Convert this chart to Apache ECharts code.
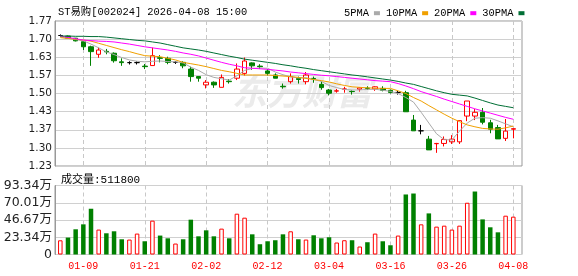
<!DOCTYPE html>
<html><head><meta charset="utf-8">
<script src="https://cdn.jsdelivr.net/npm/echarts@6/dist/echarts.min.js"></script>
<style>html,body{margin:0;padding:0;background:#fff}#c{width:578px;height:276px}</style>
</head><body><div id="c"></div><script>
const dates = ['01-06','01-07','01-08','01-09','01-12','01-13','01-14','01-15','01-16','01-19','01-20','01-21','01-22','01-23','01-26','01-27','01-28','01-29','01-30',
'02-02','02-03','02-04','02-05','02-06','02-09','02-10','02-11','02-12','02-13','02-24','02-25','02-26','02-27',
'03-02','03-03','03-04','03-05','03-06','03-09','03-10','03-11','03-12','03-13','03-16','03-17','03-18','03-19','03-20','03-23','03-24','03-25','03-26','03-27','03-30','03-31',
'04-01','04-02','04-03','04-07','04-08'];
const prevClose0 = 1.716;
const open  = [1.716,1.714,1.706,1.693,1.674,1.646,1.657,1.650,1.618,1.615,1.615,1.602,1.604,1.633,1.631,1.616,1.616,1.591,1.563,1.532,
1.542,1.523,1.546,1.557,1.575,1.614,1.602,1.584,1.569,1.527,1.544,1.556,1.544,1.556,1.534,1.513,1.509,1.516,1.508,1.516,
1.520,1.517,1.519,1.512,1.504,1.503,1.401,1.361,1.330,1.313,1.314,1.320,1.320,1.416,1.416,1.430,1.391,1.373,1.333,1.367];
const close = [1.716,1.706,1.696,1.674,1.656,1.662,1.655,1.622,1.615,1.615,1.615,1.600,1.641,1.631,1.616,1.616,1.603,1.563,1.557,1.542,
1.532,1.560,1.544,1.591,1.621,1.603,1.600,1.575,1.557,1.525,1.563,1.552,1.569,1.554,1.522,1.501,1.510,1.517,1.507,1.521,
1.519,1.525,1.512,1.504,1.504,1.432,1.361,1.361,1.290,1.314,1.329,1.330,1.399,1.472,1.430,1.393,1.367,1.331,1.360,1.369];
const low   = [1.712,1.703,1.694,1.662,1.603,1.633,1.646,1.615,1.603,1.608,1.608,1.591,1.604,1.616,1.609,1.610,1.594,1.544,1.544,1.519,
1.521,1.523,1.537,1.550,1.567,1.588,1.591,1.567,1.557,1.518,1.537,1.537,1.534,1.540,1.514,1.493,1.503,1.503,1.496,1.507,
1.513,1.510,1.508,1.500,1.496,1.432,1.361,1.348,1.290,1.279,1.303,1.312,1.312,1.397,1.401,1.385,1.352,1.331,1.323,1.333];
const high  = [1.720,1.716,1.707,1.695,1.678,1.671,1.666,1.653,1.631,1.620,1.620,1.610,1.671,1.643,1.637,1.620,1.620,1.600,1.564,1.550,
1.545,1.571,1.554,1.612,1.634,1.616,1.609,1.591,1.575,1.537,1.575,1.563,1.580,1.563,1.545,1.517,1.517,1.525,1.512,1.522,
1.527,1.527,1.527,1.515,1.510,1.510,1.420,1.383,1.342,1.316,1.340,1.345,1.399,1.472,1.442,1.446,1.402,1.383,1.405,1.370];
const volume = [192000,229000,341000,408000,619000,337000,287000,314000,206000,202000,283000,179000,458000,256000,219000,148000,206000,471000,246000,327000,
246000,350000,219000,552000,498000,273000,139000,179000,193000,273000,314000,206000,202000,260000,219000,233000,162000,193000,193000,108000,
166000,283000,179000,125000,256000,812000,825000,408000,556000,377000,390000,337000,390000,700000,852000,475000,368000,300000,525000,511800];
const ma5  = [1.710,1.706,1.701,1.696,1.684,1.670,1.655,1.645,1.634,1.625,1.620,1.618,1.620,1.621,1.619,1.618,1.614,1.598,1.586,1.570,
1.560,1.555,1.550,1.566,1.586,1.593,1.595,1.594,1.580,1.570,1.562,1.558,1.559,1.552,1.545,1.530,1.522,1.515,1.513,1.513,
1.515,1.516,1.512,1.508,1.500,1.485,1.468,1.430,1.390,1.350,1.328,1.327,1.360,1.390,1.408,1.410,1.408,1.398,1.387,1.376];
const ma10 = [1.708,1.705,1.702,1.699,1.695,1.687,1.679,1.671,1.663,1.656,1.648,1.641,1.639,1.637,1.631,1.625,1.616,1.611,1.606,1.600,
1.593,1.586,1.581,1.575,1.569,1.569,1.569,1.569,1.567,1.565,1.563,1.560,1.556,1.552,1.548,1.543,1.536,1.530,1.525,1.523,
1.521,1.520,1.519,1.519,1.510,1.500,1.485,1.472,1.455,1.439,1.423,1.408,1.395,1.383,1.376,1.370,1.368,1.367,1.372,1.379];
const ma20 = [1.714,1.709,1.704,1.699,1.697,1.695,1.694,1.692,1.688,1.684,1.679,1.674,1.670,1.666,1.662,1.657,1.651,1.646,1.640,1.632,
1.624,1.616,1.609,1.603,1.596,1.594,1.592,1.590,1.587,1.584,1.580,1.577,1.574,1.571,1.568,1.566,1.563,1.560,1.557,1.554,
1.551,1.548,1.546,1.544,1.537,1.528,1.518,1.507,1.498,1.489,1.479,1.470,1.461,1.452,1.443,1.435,1.427,1.419,1.411,1.404];
const ma30 = [1.714,1.714,1.713,1.713,1.712,1.712,1.710,1.707,1.704,1.701,1.698,1.696,1.692,1.688,1.682,1.676,1.670,1.666,1.662,1.657,
1.651,1.645,1.639,1.634,1.628,1.624,1.620,1.616,1.612,1.607,1.603,1.598,1.594,1.589,1.585,1.581,1.577,1.573,1.569,1.566,
1.562,1.558,1.554,1.550,1.545,1.539,1.534,1.526,1.518,1.510,1.503,1.497,1.494,1.491,1.483,1.474,1.465,1.457,1.452,1.447];
const priceTicks = ['1.23','1.30','1.37','1.43','1.50','1.57','1.63','1.70','1.77'];
const volTicks = ['0','23.34万','46.67万','70.01万','93.34万'];
const titleText = 'ST易购[002024] 2026-04-08 15:00';
const volTitle = '成交量:511800';
const maNames = ['5PMA','10PMA','20PMA','30PMA'];

const RED = '#ff0000', GREEN = '#008000', BLACK = '#000000';
const MONO = "'Liberation Mono','Noto Sans CJK SC',monospace";
const SANS = "'DejaVu Sans','Noto Sans CJK SC',sans-serif";
const maColors = ['#aaaaaa', '#f0a000', '#ff00ff', '#006f35'];

const candles = dates.map((d, i) => {
  const o = open[i], c = close[i];
  const pc = i === 0 ? prevClose0 : close[i - 1];
  const item = { value: [o, c, low[i], high[i]] };
  if (o === c) {
    const col = c > pc ? RED : (c < pc ? GREEN : BLACK);
    item.itemStyle = { borderColorDoji: col, borderColor: col, borderColor0: col };
  }
  return item;
});
const vols = volume.map((v, i) => {
  const pc = i === 0 ? prevClose0 : close[i - 1];
  const up = close[i] >= pc;
  return { value: v, itemStyle: up ? { color: '#ffffff', borderColor: RED, borderWidth: 1 } : { color: GREEN, borderWidth: 0 } };
});

const L = 55, W = 467, DL = 60.3, DW = 453;
const T1 = 21, H1 = 145, T2 = 185.5, H2 = 69;
const pMin = 1.23, pMax = 1.77, pInt = 0.0675;
const vMax = 933400, vInt = 233350;
const tickEvery = (idx) => idx % 8 === 3;

const chart = echarts.init(document.getElementById('c'), null, { renderer: 'canvas' });
chart.setOption({
  animation: false,
  backgroundColor: '#fff',
  title: [
    { text: titleText, left: 53, top: 2, textStyle: { fontFamily: MONO, fontSize: 10.4, fontWeight: 'normal', color: '#000' } },
    { text: volTitle, left: 56, top: 170, textStyle: { fontFamily: MONO, fontSize: 11, fontWeight: 'normal', color: '#000' } }
  ],
  legend: {
    data: maNames, left: 339, top: 3, align: 'right', icon: 'rect', itemWidth: 6, itemHeight: 4, itemGap: 6,
    textStyle: { fontFamily: MONO, fontSize: 10.4, color: '#000', padding: 0 }, selectedMode: false
  },
  graphic: [{
    type: 'text', left: 232, top: 74, z: 0, silent: true,
    style: { text: '东方财富', fill: '#ebebeb', font: 'italic bold 35px "Noto Sans CJK SC"' }
  }],
  grid: [
    { left: L, top: T1, width: W, height: H1, show: true, borderColor: '#999', borderWidth: 1, backgroundColor: 'transparent' },
    { left: DL, top: T1, width: DW, height: H1 },
    { left: L, top: T2, width: W, height: H2, show: true, borderColor: '#999', borderWidth: 1, backgroundColor: 'transparent' },
    { left: DL, top: T2, width: DW, height: H2 }
  ],
  xAxis: [
    { type: 'value', gridIndex: 0, min: 0, max: 1, show: false },
    { type: 'category', gridIndex: 1, data: dates, boundaryGap: false,
      axisLine: { show: false }, axisTick: { show: false }, axisLabel: { show: false },
      splitLine: { show: true, interval: tickEvery, lineStyle: { color: '#c8c8c8', type: [4, 3], width: 1 } } },
    { type: 'value', gridIndex: 2, min: 0, max: 1, show: false },
    { type: 'category', gridIndex: 3, data: dates, boundaryGap: false,
      axisLine: { show: false }, axisTick: { show: false },
      axisLabel: { show: true, interval: tickEvery, color: RED, fontFamily: MONO, fontSize: 10, margin: 7 },
      splitLine: { show: true, interval: tickEvery, lineStyle: { color: '#c8c8c8', type: [4, 3], width: 1 } } }
  ],
  yAxis: [
    { type: 'value', gridIndex: 0, min: pMin, max: pMax, interval: pInt, scale: true,
      axisLine: { show: true, lineStyle: { color: '#999' } }, axisTick: { show: false },
      axisLabel: { color: '#222', fontFamily: SANS, fontSize: 10.5, margin: 3,
        formatter: (v) => priceTicks[Math.round((v - pMin) / pInt)] },
      splitLine: { show: true, lineStyle: { color: '#d0d0d0', width: 1 } } },
    { type: 'value', gridIndex: 1, min: pMin, max: pMax, interval: pInt, scale: true, show: false, splitLine: { show: false } },
    { type: 'value', gridIndex: 2, min: 0, max: vMax, interval: vInt,
      axisLine: { show: true, lineStyle: { color: '#999' } }, axisTick: { show: false },
      axisLabel: { color: '#222', fontFamily: SANS, fontSize: 12.5, margin: 3,
        formatter: (v) => volTicks[Math.round(v / vInt)] },
      splitLine: { show: true, lineStyle: { color: '#d0d0d0', width: 1 } } },
    { type: 'value', gridIndex: 3, min: 0, max: vMax, interval: vInt, show: false, splitLine: { show: false } }
  ],
  series: [
    { type: 'candlestick', name: 'K', xAxisIndex: 1, yAxisIndex: 1, data: candles, barWidth: 5, clip: false, z: 3,
      itemStyle: { color: 'transparent', color0: GREEN, borderColor: RED, borderColor0: GREEN, borderColorDoji: BLACK, borderWidth: 1 } },
    ...[ma5, ma10, ma20, ma30].map((arr, k) => ({
      type: 'line', name: maNames[k], xAxisIndex: 1, yAxisIndex: 1, data: arr, showSymbol: false, symbol: 'none',
      clip: false, z: 4, color: maColors[k], lineStyle: { color: maColors[k], width: 1 }
    })),
    { type: 'bar', name: 'VOL', xAxisIndex: 3, yAxisIndex: 3, data: vols, barWidth: 4.5, clip: false, z: 3 }
  ]
});
</script></body></html>
